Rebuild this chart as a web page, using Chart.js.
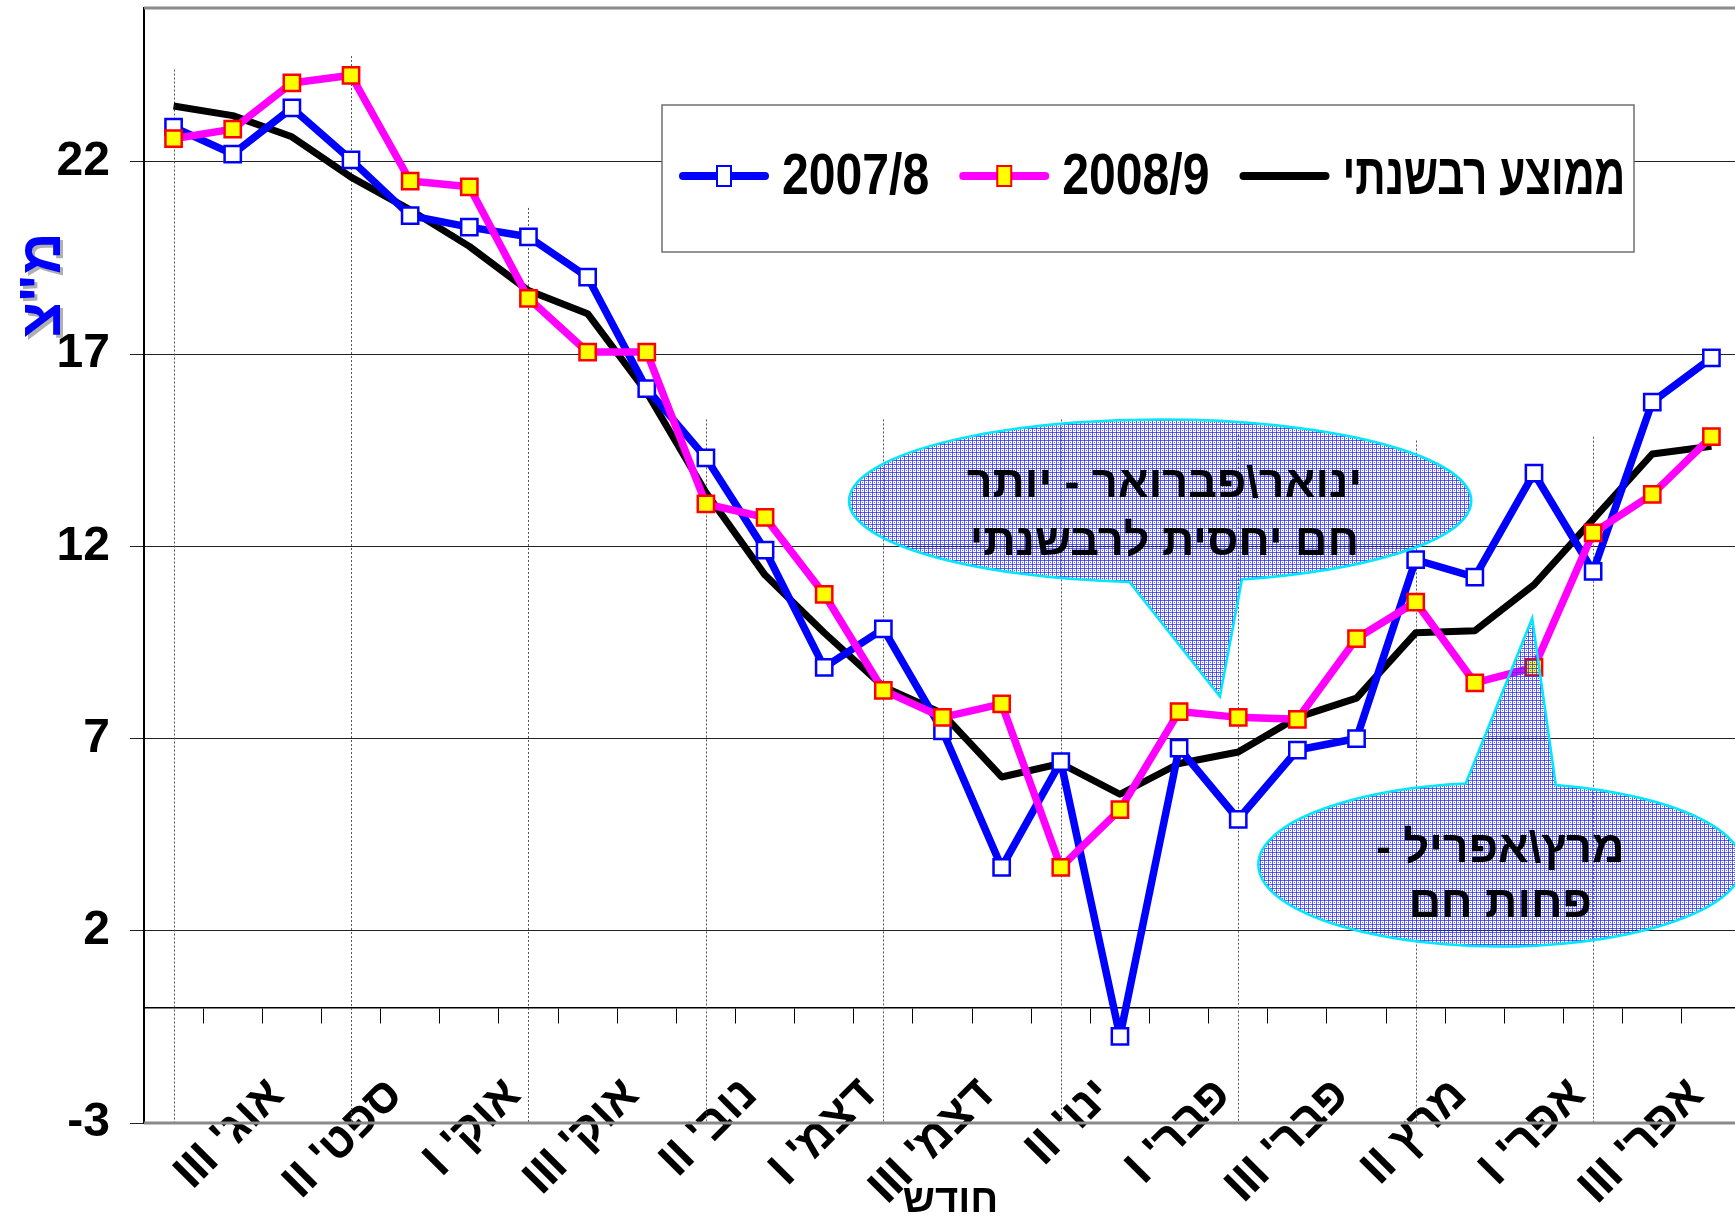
<!DOCTYPE html>
<html lang="he">
<head>
<meta charset="utf-8">
<script src="https://cdn.jsdelivr.net/npm/chart.js@4.4.0/dist/chart.umd.min.js"></script>
<style>
  html, body { margin: 0; padding: 0; background: #fff; overflow: hidden; }
  #wrap { width: 1735px; height: 1219px; overflow: hidden; }
</style>
</head>
<body>
<div id="wrap"><canvas id="chart" width="1750" height="1219"></canvas></div>
<script>
// עשורים (קטגוריות)
const categories = [
  "אוג' I", "אוג' II", "אוג' III",
  "ספט' I", "ספט' II", "ספט' III",
  "אוק' I", "אוק' II", "אוק' III",
  "נוב' I", "נוב' II", "נוב' III",
  "דצמ' I", "דצמ' II", "דצמ' III",
  "ינו' I", "ינו' II", "ינו' III",
  "פבר' I", "פבר' II", "פבר' III",
  "מרץ I", "מרץ II", "מרץ III",
  "אפר' I", "אפר' II", "אפר' III"
];

// טמפרטורה ממוצעת לעשור (מ"צ)
const season0708 = [22.9, 22.2, 23.4, 22.05, 20.6, 20.3, 20.05, 19.0, 16.1, 14.3, 11.9, 8.85, 9.85,
  7.2, 3.65, 6.4, -0.75, 6.75, 4.9, 6.7, 7.0, 11.65, 11.2, 13.9, 11.35, 15.75, 16.9];
const season0809 = [22.6, 22.85, 24.05, 24.25, 21.5, 21.35, 18.45, 17.05, 17.05, 13.1, 12.75, 10.75, 8.25,
  7.55, 7.9, 3.65, 5.15, 7.7, 7.55, 7.5, 9.6, 10.55, 8.45, 8.85, 12.35, 13.35, 14.85];
const multiYearAvg = [23.45, 23.2, 22.65, 21.6, 20.75, 19.8, 18.65, 18.05, 16.0, 13.4, 11.25, 9.75, 8.35,
  7.65, 6.0, 6.35, 5.55, 6.35, 6.65, 7.55, 8.05, 9.75, 9.8, 11.0, 12.7, 14.4, 14.6];

const seriesLabels = ["2007/8", "2008/9", "ממוצע רבשנתי"];
const yTicks = [-3, 2, 7, 12, 17, 22];
const monthStarts = [0, 3, 6, 9, 12, 15, 18, 21, 24];

const FONT = "'Liberation Sans', 'DejaVu Sans', Arial, sans-serif";

// תבנית מילוי לבועות
const tile = document.createElement("canvas");
tile.width = 4;
tile.height = 4;
const tctx = tile.getContext("2d");
tctx.fillStyle = "rgba(50, 50, 255, 0.8)";
tctx.fillRect(0, 0, 4, 1);
tctx.fillRect(0, 0, 1, 4);
tctx.fillRect(2, 2, 1, 1);

// בועות הערה (במונחי קטגוריה / ערך)
const callouts = [
  {
    cx: 16.68, cy: 13.18, rx: 5.26, ry: 2.12,
    baseA: [16.14, 10.99], baseB: [18.1, 11.08], tip: [17.69, 8.09],
    textX: 16.75, lines: ["ינואר\\פברואר - יותר", "חם יחסית לרבשנתי"], lineY: [13.6, 12.1]
  },
  {
    cx: 22.43, cy: 3.72, rx: 4.09, ry: 2.13,
    baseA: [21.84, 5.85], baseB: [23.39, 5.84], tip: [22.97, 10.13],
    textX: 22.43, lines: ["מרץ\\אפריל -", "פחות חם"], lineY: [4.1, 2.67]
  }
];

// קווים מקווקווים בתחילת כל חודש - גובה עליון
const monthLineTops = [24.4, 24.75, 20.8, 15.3, 15.3, 15.3, 14.9, 14.75, 14.85];

function drawCallout(ctx, x, y, c) {
  const pattern = ctx.createPattern(tile, "repeat");
  const cx = x.getPixelForValue(c.cx);
  const cy = y.getPixelForValue(c.cy);
  const rx = x.getPixelForValue(c.cx + c.rx) - cx;
  const ry = y.getPixelForValue(c.cy - c.ry) - cy;
  const pt = (p) => [x.getPixelForValue(p[0]), y.getPixelForValue(p[1])];
  const [ax, ay] = pt(c.baseA);
  const [bx, by] = pt(c.baseB);
  const [tx, ty] = pt(c.tip);
  const a1 = Math.atan2((ay - cy) / ry, (ax - cx) / rx);
  const a2 = Math.atan2((by - cy) / ry, (bx - cx) / rx);
  let d = a2 - a1;
  while (d < 0) d += Math.PI * 2;
  const s = d < Math.PI ? a2 : a1;
  const e = d < Math.PI ? a1 : a2;

  ctx.save();
  ctx.beginPath();
  ctx.ellipse(cx, cy, rx, ry, 0, s, e);
  ctx.lineTo(tx, ty);
  ctx.closePath();
  ctx.fillStyle = pattern;
  ctx.fill();
  ctx.strokeStyle = "#00e8ff";
  ctx.lineWidth = 2.5;
  ctx.stroke();

  ctx.fillStyle = "#000";
  ctx.font = "bold 45px " + FONT;
  ctx.direction = "rtl";
  ctx.textAlign = "center";
  ctx.textBaseline = "middle";
  const tpx = x.getPixelForValue(c.textX);
  c.lines.forEach((line, i) => {
    ctx.fillText(line, tpx, y.getPixelForValue(c.lineY[i]));
  });
  ctx.restore();
}

function drawLegend(ctx, chart) {
  const box = { left: 662, top: 105, right: 1634, bottom: 252 };
  const cy = 176;
  ctx.save();
  ctx.fillStyle = "#fff";
  ctx.fillRect(box.left, box.top, box.right - box.left, box.bottom - box.top);
  ctx.strokeStyle = "#707070";
  ctx.lineWidth = 1.5;
  ctx.strokeRect(box.left, box.top, box.right - box.left, box.bottom - box.top);

  ctx.font = "bold 58px " + FONT;
  ctx.textBaseline = "middle";
  ctx.textAlign = "left";
  ctx.direction = "rtl";
  let px = box.left + 17;
  chart.data.datasets.forEach((ds) => {
    ctx.strokeStyle = ds.borderColor;
    ctx.lineWidth = 8;
    ctx.lineCap = "round";
    ctx.beginPath();
    ctx.moveTo(px + 4, cy);
    ctx.lineTo(px + 86, cy);
    ctx.stroke();
    if (ds.pointRadius > 0) {
      ctx.fillStyle = ds.pointBackgroundColor;
      ctx.strokeStyle = ds.pointBorderColor;
      ctx.lineWidth = 2;
      ctx.fillRect(px + 38, cy - 10, 14, 20);
      ctx.strokeRect(px + 38, cy - 10, 14, 20);
    }
    px += 103;
    // גופן דחוס כמו במקור
    const sx = /[\u0590-\u05FF]/.test(ds.label) ? 0.73 : 0.83;
    const w = ctx.measureText(ds.label).width * sx;
    ctx.save();
    ctx.translate(px, cy + 2);
    ctx.scale(sx, 1);
    ctx.fillStyle = "#000";
    ctx.fillText(ds.label, 0, 0);
    ctx.restore();
    px += w + 30;
  });
  ctx.restore();
}

const decorPlugin = {
  id: "decor",
  beforeDatasetsDraw(chart) {
    const { ctx, chartArea: a, scales: { x, y } } = chart;
    ctx.save();
    // קווי תחילת חודש
    ctx.strokeStyle = "#555";
    ctx.lineWidth = 1;
    ctx.setLineDash([2, 2]);
    monthStarts.forEach((idx, k) => {
      const px = Math.round(x.getPixelForValue(idx)) + 0.5;
      ctx.beginPath();
      ctx.moveTo(px, y.getPixelForValue(monthLineTops[k]));
      ctx.lineTo(px, a.bottom);
      ctx.stroke();
    });
    ctx.setLineDash([]);

    // מסגרת
    ctx.strokeStyle = "#8a8a8a";
    ctx.lineWidth = 3;
    ctx.beginPath();
    ctx.moveTo(a.left, a.top);
    ctx.lineTo(a.right + 5, a.top);
    ctx.moveTo(a.left, a.bottom);
    ctx.lineTo(a.right + 5, a.bottom);
    ctx.stroke();
    ctx.restore();
  },
  afterDatasetsDraw(chart) {
    const { ctx, chartArea: a, scales: { x, y } } = chart;
    callouts.forEach((c) => drawCallout(ctx, x, y, c));
    drawLegend(ctx, chart);

    // כותרת ציר Y
    ctx.save();
    ctx.translate(44, y.getPixelForValue(18.8));
    ctx.rotate(-Math.PI / 2);
    ctx.font = "bold 58px " + FONT;
    ctx.direction = "rtl";
    ctx.textAlign = "center";
    ctx.textBaseline = "middle";
    ctx.shadowColor = "#b0b0b0";
    ctx.shadowOffsetX = 3;
    ctx.shadowOffsetY = 3;
    ctx.fillStyle = "#0000ff";
    ctx.fillText('מ"צ', 0, 0);
    ctx.restore();

    // כותרת ציר X
    ctx.save();
    ctx.font = "bold 40px " + FONT;
    ctx.direction = "rtl";
    ctx.textAlign = "center";
    ctx.textBaseline = "middle";
    ctx.fillStyle = "#000";
    ctx.fillText("חודש", (a.left + a.right) / 2 + 8, 1201);
    ctx.restore();
  }
};

new Chart(document.getElementById("chart"), {
  type: "line",
  data: {
    labels: categories,
    datasets: [
      {
        label: seriesLabels[0],
        data: season0708,
        borderColor: "#0000ff",
        borderWidth: 7.5,
        borderJoinStyle: "round",
        pointStyle: "rect",
        pointRadius: 11.5,
        pointBackgroundColor: "#ffffff",
        pointBorderColor: "#0000ff",
        pointBorderWidth: 2.5,
        order: 2
      },
      {
        label: seriesLabels[1],
        data: season0809,
        borderColor: "#ff00ff",
        borderWidth: 7.5,
        borderJoinStyle: "round",
        pointStyle: "rect",
        pointRadius: 11.5,
        pointBackgroundColor: "#ffff00",
        pointBorderColor: "#ff0000",
        pointBorderWidth: 2.5,
        order: 1
      },
      {
        label: seriesLabels[2],
        data: multiYearAvg,
        borderColor: "#000000",
        borderWidth: 7,
        borderJoinStyle: "round",
        pointRadius: 0,
        order: 3
      }
    ]
  },
  options: {
    responsive: false,
    animation: false,
    layout: { autoPadding: false, padding: { top: 8, right: 9, left: 0, bottom: 96 } },
    plugins: {
      legend: { display: false },
      tooltip: { enabled: false }
    },
    scales: {
      x: {
        type: "category",
        position: { y: 0 },
        offset: true,
        grid: { display: true, drawOnChartArea: false, drawTicks: true, tickLength: 15, offset: true, color: "#000", lineWidth: 1 },
        border: { display: true, color: "#000", width: 1.5 },
        ticks: {
          autoSkip: false,
          minRotation: 45,
          maxRotation: 45,
          padding: 45,
          labelOffset: -15,
          color: "#000",
          font: { family: FONT, size: 47, weight: "bold" },
          callback: (value, index) =>
            index >= 2 && index % 2 === 0 ? "\u202B" + categories[index] + "\u202C" : ""
        },
        afterFit: (scale) => {
          scale.height = 96;
          scale.paddingLeft = 0;
          scale.paddingRight = 0;
          scale.paddingTop = 0;
          scale.paddingBottom = 0;
        }
      },
      y: {
        min: -3,
        max: 26,
        afterBuildTicks: (scale) => {
          scale.ticks = yTicks.map((v) => ({ value: v }));
        },
        grid: { color: "#222", lineWidth: 1, tickLength: 14, drawTicks: true },
        border: { display: true, color: "#000", width: 2 },
        ticks: {
          padding: 20,
          color: "#000",
          font: { family: FONT, size: 48, weight: "bold" }
        },
        afterFit: (scale) => {
          scale.width = 144;
          scale.paddingTop = 0;
          scale.paddingBottom = 0;
          scale.paddingLeft = 0;
          scale.paddingRight = 0;
        }
      }
    }
  },
  plugins: [decorPlugin]
});
</script>
</body>
</html>
